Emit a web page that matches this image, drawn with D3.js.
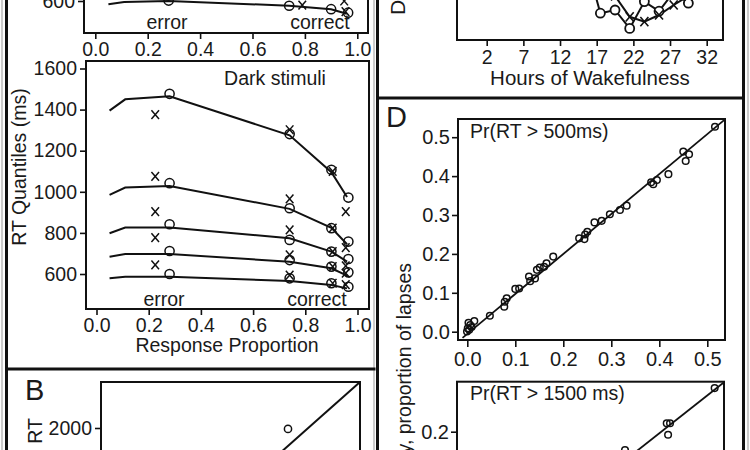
<!DOCTYPE html>
<html>
<head>
<meta charset="utf-8">
<script src="https://cdn.jsdelivr.net/npm/d3@7"></script>
<style>
  body { margin: 0; background: #fff; }
  svg text { font-family: "Liberation Sans", Arial, sans-serif; fill: #1a1a1a; }
</style>
</head>
<body>
<svg id="fig" width="750" height="450"></svg>
<script>
// ---- data ----
var propTicks = [0, 0.2, 0.4, 0.6, 0.8, 1.0];
var rtTicks = [600, 800, 1000, 1200, 1400, 1600];
var modelProp = [0.05, 0.11, 0.28, 0.74, 0.90, 0.96];

var lightModel = [[584, 595, 600, 577, 560, 538]];
var lightCircleProp = [0.28, 0.74, 0.90, 0.965];
var lightCircles = [602, 577, 560, 543];
var lightCrossProp = [0.79, 0.95, 0.955];
var lightCrosses = [580, 600, 548];

var darkModel = [
  [1395, 1450, 1465, 1275, 1095, 975],
  [985, 1021, 1028, 917, 825, 745],
  [798, 826, 826, 774, 709, 660],
  [684, 697, 697, 660, 628, 592],
  [579, 587, 587, 566, 546, 530]
];
var darkCircleProp = [0.28, 0.74, 0.90, 0.965];
var darkCircles = [
  [1477, 1281, 1107, 972],
  [1042, 920, 823, 758],
  [842, 766, 709, 673],
  [712, 668, 636, 608],
  [600, 579, 555, 538]
];
var darkCrossProp = [0.225, 0.74, 0.905, 0.955];
var darkCrosses = [
  [1376, 1302, 1099, 904],
  [1075, 966, 823, 728],
  [904, 815, 709, 640],
  [777, 693, 636, 604],
  [644, 595, 555, 548]
];

var medianTicks = [500, 1000, 1500, 2000];
var medianObs = [1805];
var medianPred = [1990];

var hourTicks = [2, 7, 12, 17, 22, 27, 32];
var hours = [15.5, 17.5, 19.5, 21.5, 23.5, 25.5, 27.5, 29.5];
var circleSeries = [0.2, 0.067, 0.075, 0.029, 0.096, 0.072, 0.12, 0.092];
var crossSeries = [0.25, 0.16, 0.11, 0.058, 0.046, 0.0625, 0.0875, 0.11];

var lapseTicks = [0, 0.1, 0.2, 0.3, 0.4, 0.5];
var lapse500Obs = [0.516, 0.45, 0.462, 0.455, 0.419, 0.395, 0.3875, 0.383, 0.332, 0.318, 0.297, 0.28, 0.265,
  0.25, 0.2455, 0.233, 0.244, 0.179, 0.165, 0.16, 0.151, 0.145, 0.141, 0.1285, 0.131, 0.108, 0.1,
  0.082, 0.078, 0.077, 0.047, 0.0146, 0.006, 0.0025, 0.001, -0.0006, 0.004, 0.009];
var lapse500Pred = [0.527, 0.463, 0.456, 0.439, 0.405, 0.39, 0.379, 0.384, 0.324, 0.313, 0.302, 0.285, 0.281,
  0.257, 0.25, 0.24, 0.238, 0.193, 0.176, 0.167, 0.165, 0.159, 0.137, 0.142, 0.13, 0.111, 0.11,
  0.086, 0.077, 0.064, 0.041, 0.0275, 0.017, 0.023, 0.009, 0.0005, 0.005, 0.012];
var lapse500Fit = [[-0.01, -0.016], [0.535, 0.544]];
var lapse1500Ticks = [0.1, 0.2];
var lapse1500Obs = [0.255, 0.2056, 0.209, 0.207, 0.1626];
var lapse1500Pred = [0.257, 0.211, 0.211, 0.196, 0.176];

// ---- drawing ----
var svg = d3.select("#fig");
svg.append("rect").attr("width", 750).attr("height", 450).attr("fill", "#fff");

var tickFont = "19.5px";
var intFmt = d3.format("d");
var oneDp = d3.format(".1f");

function box(g, x0, y0, x1, y1) {
  g.append("rect").attr("x", x0).attr("y", y0).attr("width", x1 - x0).attr("height", y1 - y0)
    .attr("fill", "none").attr("stroke", "#111").attr("stroke-width", 2);
}
function styleAxis(sel, size) {
  sel.select(".domain").remove();
  sel.selectAll(".tick line").attr("stroke", "#111").attr("stroke-width", 1.6);
  sel.selectAll(".tick text").style("font-size", size || tickFont).attr("fill", "#1a1a1a");
}
function crossPath(r) {
  return "M" + (-r) + "," + (-r * 1.15) + "L" + r + "," + (r * 1.15) +
         "M" + r + "," + (-r * 1.15) + "L" + (-r) + "," + (r * 1.15);
}
function rotLabel(x, y, txt, anchor, size) {
  svg.append("text").attr("transform", "translate(" + x + "," + y + ") rotate(-90)")
    .attr("text-anchor", anchor).style("font-size", size || "19.5px").text(txt);
}

// --- Panel A (light stimuli, top, cut off) ---
(function() {
  var g = svg.append("g");
  var x = d3.scaleLinear().domain([0, 1]).range([95.3, 357.3]);
  var y = d3.scaleLinear().domain([600, 1600]).range([1, -204.5]);
  box(g, 84, -230, 368, 33);
  g.append("g").attr("transform", "translate(0,33)")
    .call(d3.axisBottom(x).tickValues(propTicks).tickFormat(oneDp).tickSize(6).tickPadding(3))
    .call(styleAxis);
  g.append("g").attr("transform", "translate(84,0)")
    .call(d3.axisLeft(y).tickValues(rtTicks).tickFormat(intFmt).tickSize(6).tickPadding(3))
    .call(styleAxis);
  var line = d3.line().x(function(d, i) { return x(modelProp[i]); }).y(function(d) { return y(d); });
  g.selectAll(".ml").data(lightModel).enter().append("path")
    .attr("d", line).attr("fill", "none").attr("stroke", "#111").attr("stroke-width", 2);
  g.selectAll(".oc").data(lightCircles).enter().append("circle")
    .attr("cx", function(d, i) { return x(lightCircleProp[i]); }).attr("cy", function(d) { return y(d); })
    .attr("r", 4.6).attr("fill", "none").attr("stroke", "#111").attr("stroke-width", 1.5);
  g.selectAll(".ox").data(lightCrosses).enter().append("path")
    .attr("transform", function(d, i) { return "translate(" + x(lightCrossProp[i]) + "," + y(d) + ")"; })
    .attr("d", crossPath(3.8)).attr("stroke", "#111").attr("stroke-width", 1.5);
  g.append("text").attr("x", 167).attr("y", 29).attr("text-anchor", "middle").style("font-size", "19.5px").text("error");
  g.append("text").attr("x", 320).attr("y", 29).attr("text-anchor", "middle").style("font-size", "19.5px").text("correct");
})();

// --- Panel A (dark stimuli) ---
(function() {
  var g = svg.append("g");
  var x = d3.scaleLinear().domain([0, 1]).range([96.5, 357.5]);
  var y = d3.scaleLinear().domain([600, 1600]).range([274, 68.5]);
  box(g, 86, 61, 369, 309);
  g.append("g").attr("transform", "translate(0,309)")
    .call(d3.axisBottom(x).tickValues(propTicks).tickFormat(oneDp).tickSize(6).tickPadding(3))
    .call(styleAxis);
  g.append("g").attr("transform", "translate(86,0)")
    .call(d3.axisLeft(y).tickValues(rtTicks).tickFormat(intFmt).tickSize(6).tickPadding(3))
    .call(styleAxis);
  var line = d3.line().x(function(d, i) { return x(modelProp[i]); }).y(function(d) { return y(d); });
  g.selectAll(".ml").data(darkModel).enter().append("path")
    .attr("d", line).attr("fill", "none").attr("stroke", "#111").attr("stroke-width", 2);
  darkCircles.forEach(function(row) {
    g.selectAll(null).data(row).enter().append("circle")
      .attr("cx", function(d, i) { return x(darkCircleProp[i]); }).attr("cy", function(d) { return y(d); })
      .attr("r", 4.6).attr("fill", "none").attr("stroke", "#111").attr("stroke-width", 1.5);
  });
  darkCrosses.forEach(function(row) {
    g.selectAll(null).data(row).enter().append("path")
      .attr("transform", function(d, i) { return "translate(" + x(darkCrossProp[i]) + "," + y(d) + ")"; })
      .attr("d", crossPath(3.8)).attr("stroke", "#111").attr("stroke-width", 1.5);
  });
  g.append("text").attr("x", 275).attr("y", 85).attr("text-anchor", "middle").style("font-size", "19.5px").text("Dark stimuli");
  g.append("text").attr("x", 164).attr("y", 306).attr("text-anchor", "middle").style("font-size", "19.5px").text("error");
  g.append("text").attr("x", 317).attr("y", 306).attr("text-anchor", "middle").style("font-size", "19.5px").text("correct");
  g.append("text").attr("x", 227).attr("y", 352).attr("text-anchor", "middle").style("font-size", "19.5px").text("Response Proportion");
  rotLabel(26, 167, "RT Quantiles (ms)", "middle");
})();

// --- Panel B ---
(function() {
  var g = svg.append("g");
  var x = d3.scaleLinear().domain([0, 2500]).range([101, 360]);
  var y = d3.scaleLinear().domain([0, 2500]).range([612, 382]);
  box(g, 101, 382, 360, 640);
  g.append("g").attr("transform", "translate(101,0)")
    .call(d3.axisLeft(y).tickValues(medianTicks).tickFormat(intFmt).tickSize(6).tickPadding(3))
    .call(styleAxis);
  g.append("line").attr("x1", x(0)).attr("y1", y(0)).attr("x2", x(2500)).attr("y2", y(2500))
    .attr("stroke", "#111").attr("stroke-width", 2);
  g.selectAll(".pt").data(medianObs).enter().append("circle")
    .attr("cx", function(d) { return x(d); }).attr("cy", function(d, i) { return y(medianPred[i]); })
    .attr("r", 3.6).attr("fill", "none").attr("stroke", "#111").attr("stroke-width", 1.5);
  g.append("text").attr("x", 25).attr("y", 400).style("font-size", "29px").text("B");
  rotLabel(42, 418, "Median Average RT", "end");
})();

// --- Panel C (hours of wakefulness, cut off) ---
(function() {
  var g = svg.append("g");
  var x = d3.scaleLinear().domain([2, 32]).range([486.7, 706.7]);
  var y = d3.scaleLinear().domain([0, 0.25]).range([40, -60]);
  box(g, 457, -230, 723, 40);
  g.append("g").attr("transform", "translate(0,40)")
    .call(d3.axisBottom(x).tickValues(hourTicks).tickSize(6).tickPadding(4))
    .call(styleAxis);
  var line = d3.line().x(function(d, i) { return x(hours[i]); }).y(function(d) { return y(d); });
  g.append("path").attr("d", line(circleSeries)).attr("fill", "none").attr("stroke", "#111").attr("stroke-width", 2);
  g.append("path").attr("d", line(crossSeries)).attr("fill", "none").attr("stroke", "#111").attr("stroke-width", 2);
  g.selectAll(".c").data(circleSeries).enter().append("circle")
    .attr("cx", function(d, i) { return x(hours[i]); }).attr("cy", function(d) { return y(d); })
    .attr("r", 4.5).attr("fill", "#fff").attr("stroke", "#111").attr("stroke-width", 1.8);
  g.selectAll(".x").data(crossSeries).enter().append("path")
    .attr("transform", function(d, i) { return "translate(" + x(hours[i]) + "," + y(d) + ")"; })
    .attr("d", crossPath(4)).attr("stroke", "#111").attr("stroke-width", 1.6);
  g.append("text").attr("x", 590).attr("y", 85).attr("text-anchor", "middle").style("font-size", "20.5px").text("Hours of Wakefulness");
  rotLabel(405, 15, "Diffusion Drift Rate", "start", "21px");
})();

// --- Panel D (upper: RT > 500 ms) ---
(function() {
  var g = svg.append("g");
  var x = d3.scaleLinear().domain([0, 0.5]).range([467.3, 707.3]);
  var y = d3.scaleLinear().domain([0, 0.5]).range([331.7, 137.2]);
  box(g, 458, 119, 725, 340);
  g.append("g").attr("transform", "translate(0,340)")
    .call(d3.axisBottom(x).tickValues(lapseTicks).tickFormat(oneDp).tickSize(7).tickPadding(5))
    .call(styleAxis, "20px");
  g.append("g").attr("transform", "translate(458,0)")
    .call(d3.axisLeft(y).tickValues(lapseTicks).tickFormat(oneDp).tickSize(6).tickPadding(2))
    .call(styleAxis, "20px");
  g.append("line").attr("x1", x(lapse500Fit[0][0])).attr("y1", y(lapse500Fit[0][1]))
    .attr("x2", x(lapse500Fit[1][0])).attr("y2", y(lapse500Fit[1][1]))
    .attr("stroke", "#111").attr("stroke-width", 1.8);
  g.selectAll(".pt").data(lapse500Obs).enter().append("circle")
    .attr("cx", function(d) { return x(d); }).attr("cy", function(d, i) { return y(lapse500Pred[i]); })
    .attr("r", 3.3).attr("fill", "none").attr("stroke", "#111").attr("stroke-width", 1.5);
  g.append("text").attr("x", 470).attr("y", 138).style("font-size", "19.5px").text("Pr(RT > 500ms)");
  g.append("text").attr("x", 386).attr("y", 127).style("font-size", "29px").text("D");
  rotLabel(411, 263, "Predicted probability, proportion of lapses", "end");
})();

// --- Panel D (lower: RT > 1500 ms) ---
(function() {
  var g = svg.append("g");
  var x = d3.scaleLinear().domain([0, 0.1]).range([467.3, 564.3]);
  var y = d3.scaleLinear().domain([0, 0.2]).range([584.7, 431.7]);
  box(g, 457, 381.7, 724, 600);
  g.append("g").attr("transform", "translate(457,0)")
    .call(d3.axisLeft(y).tickValues(lapse1500Ticks).tickFormat(oneDp).tickSize(6).tickPadding(2))
    .call(styleAxis, "20px");
  g.append("line").attr("x1", x(0)).attr("y1", y(0)).attr("x2", x(0.265)).attr("y2", y(0.265))
    .attr("stroke", "#111").attr("stroke-width", 1.8);
  g.selectAll(".pt").data(lapse1500Obs).enter().append("circle")
    .attr("cx", function(d) { return x(d); }).attr("cy", function(d, i) { return y(lapse1500Pred[i]); })
    .attr("r", 3.3).attr("fill", "none").attr("stroke", "#111").attr("stroke-width", 1.5);
  g.append("text").attr("x", 470).attr("y", 400).style("font-size", "19.5px").text("Pr(RT > 1500 ms)");
})();

// --- frame lines around the panels ---
var frame = svg.append("g").attr("stroke-linecap", "square");
frame.append("line").attr("x1", 2).attr("y1", 0).attr("x2", 2).attr("y2", 450).attr("stroke", "#999").attr("stroke-width", 1);
frame.append("line").attr("x1", 6.5).attr("y1", 0).attr("x2", 6.5).attr("y2", 450).attr("stroke", "#111").attr("stroke-width", 3);
frame.append("line").attr("x1", 374).attr("y1", 0).attr("x2", 374).attr("y2", 450).attr("stroke", "#999").attr("stroke-width", 1);
frame.append("line").attr("x1", 377.5).attr("y1", 0).attr("x2", 377.5).attr("y2", 450).attr("stroke", "#111").attr("stroke-width", 3);
frame.append("line").attr("x1", 743.5).attr("y1", 0).attr("x2", 743.5).attr("y2", 450).attr("stroke", "#111").attr("stroke-width", 3);
frame.append("line").attr("x1", 748).attr("y1", 0).attr("x2", 748).attr("y2", 450).attr("stroke", "#999").attr("stroke-width", 1);
frame.append("line").attr("x1", 6.5).attr("y1", 369).attr("x2", 374).attr("y2", 369).attr("stroke", "#111").attr("stroke-width", 3);
frame.append("line").attr("x1", 377.5).attr("y1", 98).attr("x2", 743.5).attr("y2", 98).attr("stroke", "#111").attr("stroke-width", 3);
</script>
</body>
</html>
